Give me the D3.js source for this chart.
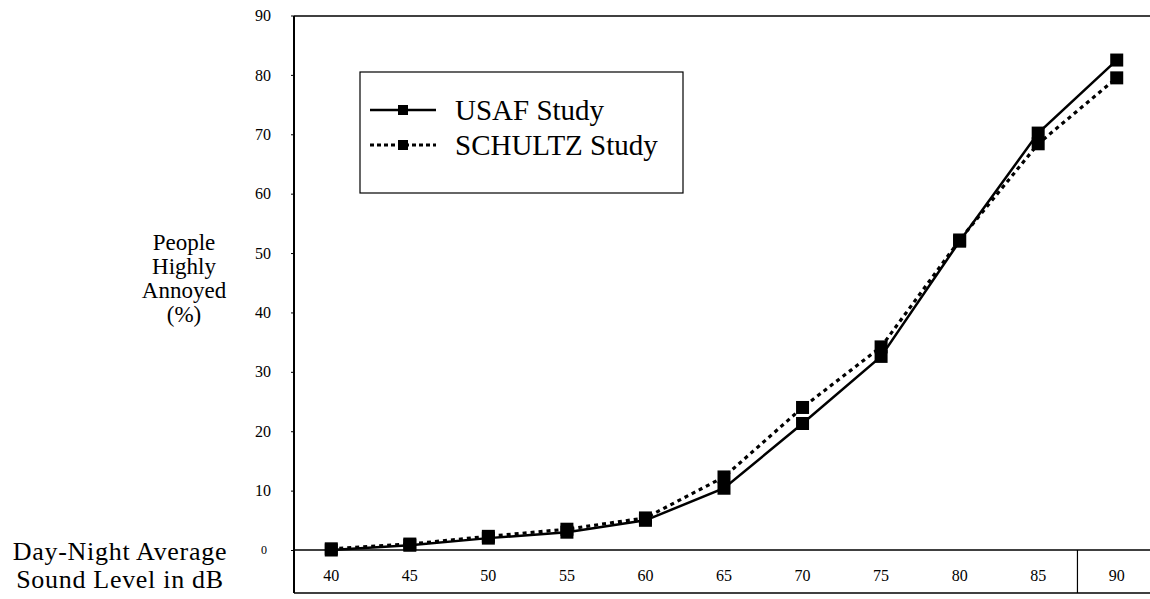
<!DOCTYPE html>
<html>
<head>
<meta charset="utf-8">
<script src="https://cdn.jsdelivr.net/npm/d3@7"></script>
<style>
  body { margin: 0; background: #fff; }
  svg { display: block; font-family: 'Liberation Serif', 'DejaVu Serif', serif; }
</style>
</head>
<body>
<svg id="chart"></svg>
<script>
const levels = ['40', '45', '50', '55', '60', '65', '70', '75', '80', '85', '90']
const usaf = [0, 0.8, 2.0, 3.0, 5.0, 10.4, 21.3, 32.6, 52.0, 70.2, 82.5]
const schultz = [0.2, 1.0, 2.3, 3.5, 5.4, 12.3, 24.0, 34.2, 52.2, 68.4, 79.5]
const yTicks = [0, 10, 20, 30, 40, 50, 60, 70, 80, 90]
const yTitle = ['People', 'Highly', 'Annoyed', '(%)']
const xTitle = ['Day-Night Average', 'Sound Level in dB']
const seriesNames = ['USAF Study', 'SCHULTZ Study']

const width = 1150, height = 599
const plotLeft = 294, plotTop = 16, plotBottom = 550, boxBottom = 593

const svg = d3.select('#chart').attr('width', width).attr('height', height)

const x = d3.scaleBand().domain(levels).range([292, 1156]).paddingInner(0).paddingOuter(0)
const y = d3.scaleLinear().domain([0, 90]).range([plotBottom, 15.5])
const cx = (d) => x(d) + x.bandwidth() / 2

// frame
svg.append('line').attr('x1', plotLeft).attr('x2', width).attr('y1', plotTop).attr('y2', plotTop)
    .attr('stroke', '#000').attr('stroke-width', 1.5)
svg.append('line').attr('x1', plotLeft).attr('x2', width).attr('y1', plotBottom).attr('y2', plotBottom)
    .attr('stroke', '#000').attr('stroke-width', 1.5)
svg.append('line').attr('x1', plotLeft).attr('x2', width).attr('y1', boxBottom).attr('y2', boxBottom)
    .attr('stroke', '#000').attr('stroke-width', 1.5)
// divider before the last category
svg.append('line').attr('x1', x('90')).attr('x2', x('90')).attr('y1', plotBottom).attr('y2', boxBottom)
    .attr('stroke', '#000').attr('stroke-width', 1.2)

// y axis
const yAxis = svg.append('g')
    .attr('transform', `translate(${plotLeft},0)`)
    .call(d3.axisLeft(y).tickValues(yTicks).tickSize(3).tickPadding(20))
yAxis.select('.domain').remove()
yAxis.append('line').attr('x1', 0).attr('x2', 0).attr('y1', plotTop).attr('y2', boxBottom)
    .attr('stroke', '#000').attr('stroke-width', 2)
yAxis.selectAll('text').attr('font-family', 'Liberation Serif').attr('font-size', 16).attr('fill', '#000')
yAxis.selectAll('.tick').filter((d) => d === 0).select('text').attr('font-size', 12).attr('dx', -4)
yAxis.selectAll('.tick line').attr('stroke', '#000')

// x category labels inside the bottom box
svg.append('g').selectAll('text').data(levels).join('text')
    .attr('x', (d) => cx(d))
    .attr('y', 581)
    .attr('text-anchor', 'middle')
    .attr('font-size', 16)
    .text((d) => d)

// lines
const line = (vals) => d3.line()
    .x((d, i) => cx(levels[i]))
    .y((d) => y(d))(vals)

svg.append('path').attr('d', line(usaf)).attr('fill', 'none')
    .attr('stroke', '#000').attr('stroke-width', 2.5)
svg.append('path').attr('d', line(schultz)).attr('fill', 'none')
    .attr('stroke', '#000').attr('stroke-width', 3.2).attr('stroke-dasharray', '4,4')

const ms = 13
;[usaf, schultz].forEach((vals) => {
    svg.append('g').selectAll('rect').data(vals).join('rect')
        .attr('x', (d, i) => cx(levels[i]) - ms / 2)
        .attr('y', (d) => y(d) - ms / 2)
        .attr('width', ms).attr('height', ms)
        .attr('fill', '#000')
})

// legend
const lg = svg.append('g')
lg.append('rect').attr('x', 360).attr('y', 72).attr('width', 323).attr('height', 121)
    .attr('fill', 'none').attr('stroke', '#000').attr('stroke-width', 1.2)
const legendRows = [
    { name: seriesNames[0], y: 110, dash: null, w: 2.5 },
    { name: seriesNames[1], y: 145, dash: '4,3', w: 3 }
]
legendRows.forEach((r) => {
    lg.append('line').attr('x1', 370).attr('x2', 436).attr('y1', r.y).attr('y2', r.y)
        .attr('stroke', '#000').attr('stroke-width', r.w).attr('stroke-dasharray', r.dash)
    lg.append('rect').attr('x', 398).attr('y', r.y - 5).attr('width', 10).attr('height', 10).attr('fill', '#000')
    lg.append('text').attr('x', 455).attr('y', r.y + 10).attr('font-size', 29).text(r.name)
})

// axis titles
svg.append('g').selectAll('text').data(yTitle).join('text')
    .attr('x', 184)
    .attr('y', (d, i) => 250 + i * 24)
    .attr('text-anchor', 'middle')
    .attr('font-size', 23)
    .text((d) => d)

svg.append('g').selectAll('text').data(xTitle).join('text')
    .attr('x', 120)
    .attr('y', (d, i) => 560 + i * 28)
    .attr('text-anchor', 'middle')
    .attr('font-size', 26)
    .attr('letter-spacing', 0.7)
    .text((d) => d)
</script>
</body>
</html>
